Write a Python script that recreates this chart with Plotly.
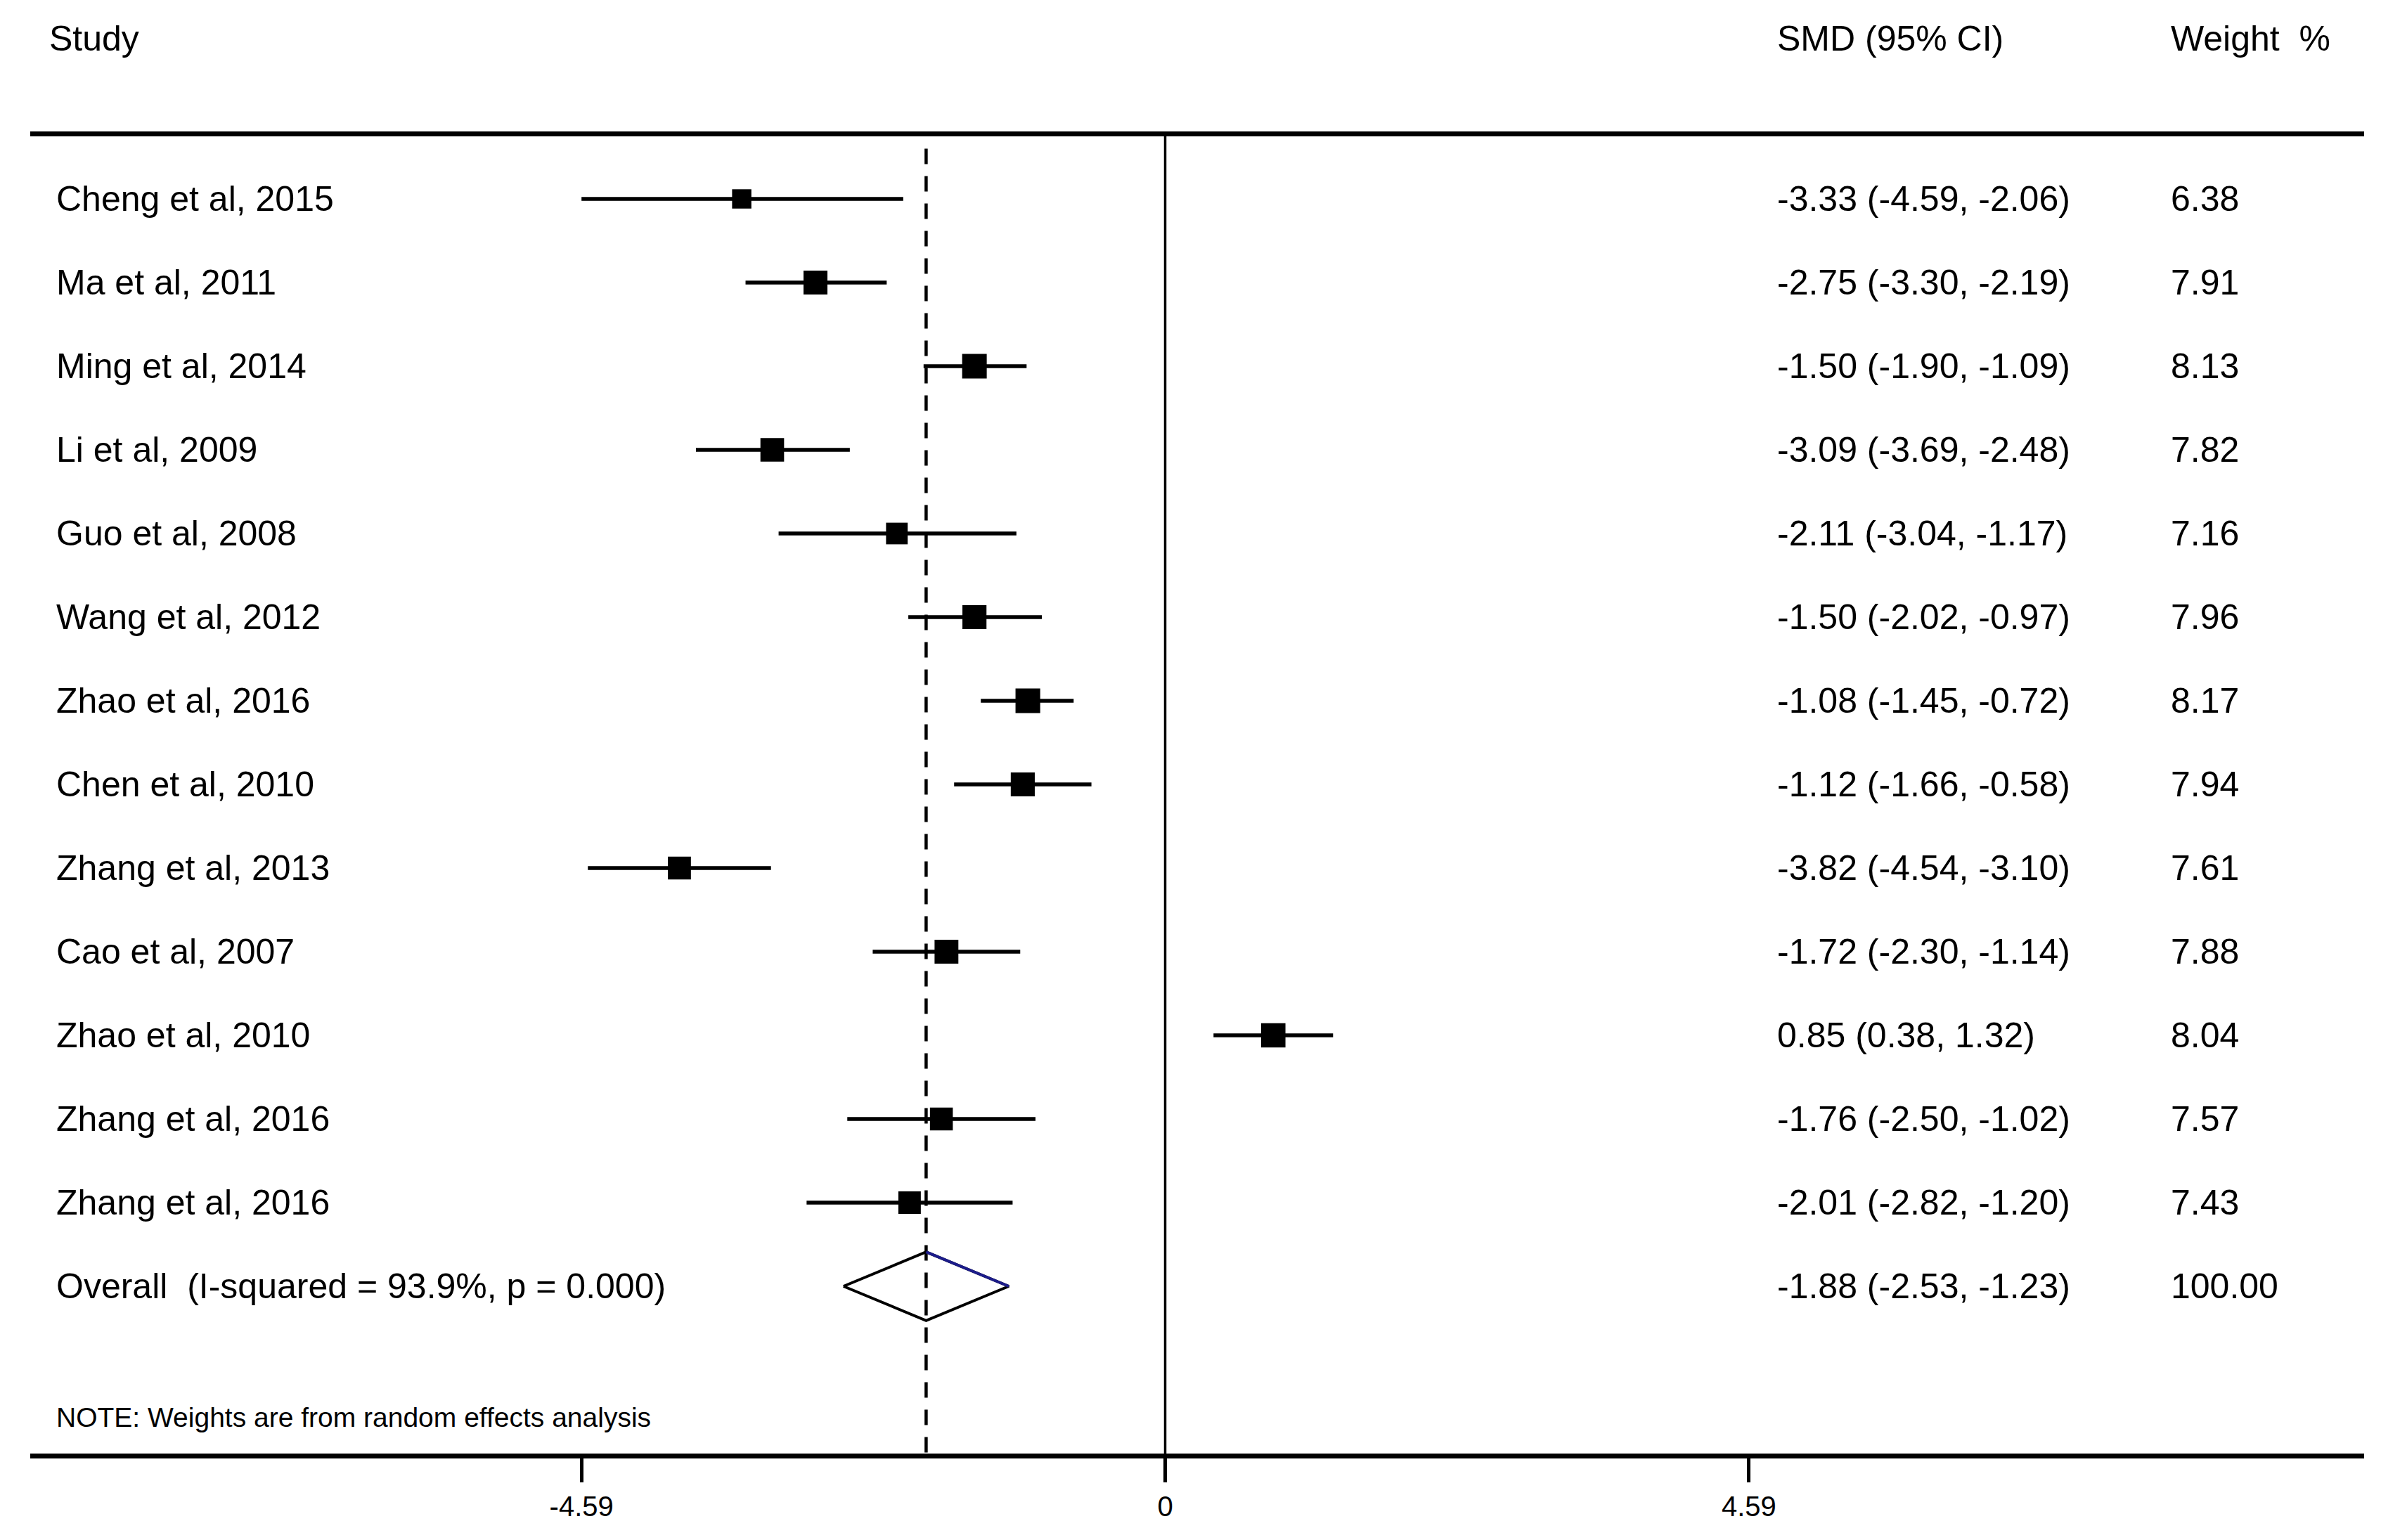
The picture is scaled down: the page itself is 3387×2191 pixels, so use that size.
"""Forest plot: SMD with 95% CI, random effects weights."""

import plotly.graph_objects as go

FONT = "Liberation Sans, Arial, Helvetica, sans-serif"

STUDIES = [
    "Cheng et al, 2015",
    "Ma et al, 2011",
    "Ming et al, 2014",
    "Li et al, 2009",
    "Guo et al, 2008",
    "Wang et al, 2012",
    "Zhao et al, 2016",
    "Chen et al, 2010",
    "Zhang et al, 2013",
    "Cao et al, 2007",
    "Zhao et al, 2010",
    "Zhang et al, 2016",
    "Zhang et al, 2016",
]
SMD = [-3.33, -2.75, -1.50, -3.09, -2.11, -1.50, -1.08, -1.12, -3.82, -1.72, 0.85, -1.76, -2.01]
CI_LOW = [-4.59, -3.30, -1.90, -3.69, -3.04, -2.02, -1.45, -1.66, -4.54, -2.30, 0.38, -2.50, -2.82]
CI_HIGH = [-2.06, -2.19, -1.09, -2.48, -1.17, -0.97, -0.72, -0.58, -3.10, -1.14, 1.32, -1.02, -1.20]
WEIGHTS = [6.38, 7.91, 8.13, 7.82, 7.16, 7.96, 8.17, 7.94, 7.61, 7.88, 8.04, 7.57, 7.43]

OVERALL_LABEL = "Overall\u00a0\u00a0(I-squared = 93.9%, p = 0.000)"
OVERALL_SMD = -1.88
OVERALL_LOW = -2.53
OVERALL_HIGH = -1.23
OVERALL_WEIGHT = "100.00"

NOTE = "NOTE: Weights are from random effects analysis"
TICK_VALS = [-4.59, 0, 4.59]
TICK_TEXT = ["-4.59", "0", "4.59"]

rows = list(range(len(STUDIES)))
overall_row = len(STUDIES)

fig = go.Figure()

# study estimates with CI whiskers
fig.add_trace(
    go.Scatter(
        x=SMD,
        y=rows,
        mode="markers",
        marker=dict(symbol="square", color="black", opacity=1,
                    size=[w * 4.3 for w in WEIGHTS], line=dict(width=0)),
        error_x=dict(
            type="data",
            symmetric=False,
            array=[h - s for h, s in zip(CI_HIGH, SMD)],
            arrayminus=[s - l for s, l in zip(SMD, CI_LOW)],
            width=0,
            thickness=5.5,
            color="black",
        ),
        showlegend=False,
        hoverinfo="skip",
    )
)

# pooled diamond
half = 0.41
fig.add_trace(
    go.Scatter(
        x=[OVERALL_LOW, OVERALL_SMD, OVERALL_HIGH, OVERALL_SMD, OVERALL_LOW],
        y=[overall_row, overall_row + half, overall_row, overall_row - half, overall_row],
        mode="lines",
        line=dict(color="black", width=4),
        showlegend=False,
        hoverinfo="skip",
    )
)
fig.add_trace(
    go.Scatter(
        x=[OVERALL_SMD, OVERALL_HIGH],
        y=[overall_row - half, overall_row],
        mode="lines",
        line=dict(color="#1c1c8a", width=4),
        showlegend=False,
        hoverinfo="skip",
    )
)

y_top, y_bottom = -0.748, 15.0

# null line and pooled estimate line
fig.add_shape(type="line", xref="x", yref="y", x0=0, x1=0, y0=y_top, y1=y_bottom,
              line=dict(color="black", width=3.5), layer="below")
fig.add_shape(type="line", xref="x", yref="y", x0=OVERALL_SMD, x1=OVERALL_SMD,
              y0=-0.6, y1=y_bottom, line=dict(color="black", width=4.5, dash="22px,17px"),
              layer="below")

text_font = dict(family=FONT, size=50, color="black")
name_x, smd_x, wt_x = 0.0105, 0.7479, 0.9166
header_y = 1.0742

for x, label in [(0.0075, "Study"), (smd_x, "SMD (95% CI)"), (wt_x, "Weight\u00a0\u00a0%")]:
    fig.add_annotation(x=x, y=header_y, xref="paper", yref="paper", text=label,
                       showarrow=False, xanchor="left", yanchor="middle", font=text_font)

for i, name in enumerate(STUDIES):
    ci_text = f"{SMD[i]:.2f} ({CI_LOW[i]:.2f}, {CI_HIGH[i]:.2f})"
    for x, label in [(name_x, name), (smd_x, ci_text), (wt_x, f"{WEIGHTS[i]:.2f}")]:
        fig.add_annotation(x=x, y=i, xref="paper", yref="y", text=label,
                           showarrow=False, xanchor="left", yanchor="middle", font=text_font)

overall_ci = f"{OVERALL_SMD:.2f} ({OVERALL_LOW:.2f}, {OVERALL_HIGH:.2f})"
for x, label in [(name_x, OVERALL_LABEL), (smd_x, overall_ci), (wt_x, OVERALL_WEIGHT)]:
    fig.add_annotation(x=x, y=overall_row, xref="paper", yref="y", text=label,
                       showarrow=False, xanchor="left", yanchor="middle", font=text_font)

fig.add_annotation(x=name_x, y=overall_row + 1.57, xref="paper", yref="y", text=NOTE,
                   showarrow=False, xanchor="left", yanchor="middle",
                   font=dict(family=FONT, size=39, color="black"))

# page body has an 8px margin, so the figure is 8px smaller each way
fig.update_layout(
    width=3379,
    height=2183,
    margin=dict(l=35, r=24, t=186, b=123),
    paper_bgcolor="white",
    plot_bgcolor="white",
    showlegend=False,
)
fig.update_xaxes(
    range=[-8.925, 9.428],
    tickvals=TICK_VALS,
    ticktext=TICK_TEXT,
    ticks="outside",
    ticklen=34,
    tickwidth=5,
    tickcolor="black",
    ticklabelstandoff=0,
    tickfont=dict(family=FONT, size=40, color="black"),
    showline=True,
    linewidth=7,
    linecolor="black",
    mirror=True,
    showgrid=False,
    zeroline=False,
)
fig.update_yaxes(range=[y_bottom, y_top], visible=False)

fig.write_html("out.html")
